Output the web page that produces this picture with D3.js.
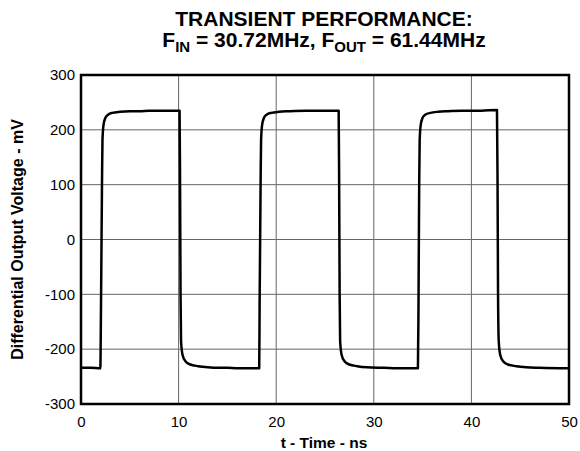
<!DOCTYPE html>
<html>
<head>
<meta charset="utf-8">
<script src="https://cdn.jsdelivr.net/npm/d3@7"></script>
<style>
  body { margin: 0; background: #fff; }
  text { font-family: Arial, "Liberation Sans", sans-serif; }
</style>
</head>
<body>
<div id="chart"></div>
<script>
// waveform: time (ns) and differential voltage (mV)
var timeNs = [
  0, 1.0, 1.98, 2.05, 2.15, 2.2, 2.3, 2.5, 2.8, 3.2, 4.0, 5.0, 6.0, 7.0, 8.0, 9.0, 10.1,
  10.15, 10.2, 10.25, 10.4, 10.7, 11.2, 12.0, 13.0, 14.0, 15.0, 16.0, 17.0, 18.26,
  18.3, 18.4, 18.45, 18.55, 18.75, 19.05, 19.5, 20.3, 21.3, 23.0, 25.0, 26.4,
  26.45, 26.5, 26.55, 26.7, 27.0, 27.5, 28.3, 29.3, 31.0, 33.0, 34.52,
  34.58, 34.65, 34.7, 34.8, 35.0, 35.3, 35.8, 36.6, 37.6, 39.0, 41.0, 42.62,
  42.68, 42.73, 42.8, 42.95, 43.25, 43.75, 44.6, 45.6, 47.0, 50.0
];
var voltageMv = [
  -234, -234, -235, -120, 100, 180, 208, 222, 228, 231, 233, 234, 234, 235, 235, 235, 235,
  100, -100, -185, -210, -222, -228, -231, -233, -234, -234, -235, -235, -235,
  -120, 100, 180, 208, 222, 228, 231, 233, 234, 235, 235, 235,
  100, -100, -185, -210, -222, -228, -231, -233, -234, -235, -235,
  -120, 100, 180, 208, 222, 228, 231, 233, 234, 235, 235, 236,
  100, -100, -185, -210, -222, -228, -231, -233, -234, -235
];
var xTicks = [0, 10, 20, 30, 40, 50];
var yTicks = [-300, -200, -100, 0, 100, 200, 300];

var width = 580, height = 451;
var margin = {top: 75, right: 11, bottom: 47, left: 81};

var svg = d3.select("#chart")
  .append("svg")
  .attr("width", width)
  .attr("height", height);

var x = d3.scaleLinear()
  .domain([0, 50])
  .range([margin.left, width - margin.right]);

var y = d3.scaleLinear()
  .domain([-300, 300])
  .range([height - margin.bottom, margin.top]);

// grid
svg.append("g")
  .selectAll("line.v")
  .data(xTicks)
  .enter()
  .append("line")
    .attr("x1", function(d){ return x(d) })
    .attr("x2", function(d){ return x(d) })
    .attr("y1", y(-300))
    .attr("y2", y(300))
    .attr("stroke", "#666")
    .attr("stroke-width", 1);

svg.append("g")
  .selectAll("line.h")
  .data(yTicks)
  .enter()
  .append("line")
    .attr("x1", x(0))
    .attr("x2", x(50))
    .attr("y1", function(d){ return y(d) })
    .attr("y2", function(d){ return y(d) })
    .attr("stroke", "#666")
    .attr("stroke-width", 1);

// axes (labels only, frame drawn below)
var xAxis = svg.append("g")
  .attr("transform", "translate(0," + y(-300) + ")")
  .call(d3.axisBottom(x).tickValues(xTicks).tickFormat(String).tickSize(0).tickPadding(12));

var yAxis = svg.append("g")
  .attr("transform", "translate(" + x(0) + ",0)")
  .call(d3.axisLeft(y).tickValues(yTicks).tickFormat(String).tickSize(0).tickPadding(6));

[xAxis, yAxis].forEach(function(a){
  a.select(".domain").remove();
  a.selectAll("text")
    .style("font-size", "15px")
    .style("font-family", "Arial, 'Liberation Sans', sans-serif")
    .attr("fill", "#000");
});

// frame
svg.append("rect")
  .attr("x", x(0))
  .attr("y", y(300))
  .attr("width", x(50) - x(0))
  .attr("height", y(-300) - y(300))
  .attr("fill", "none")
  .attr("stroke", "#000")
  .attr("stroke-width", 2.5);

// trace
var pts = timeNs.map(function(t, i){ return [t, voltageMv[i]] });

svg.append("path")
  .datum(pts)
  .attr("fill", "none")
  .attr("stroke", "#000")
  .attr("stroke-width", 2.5)
  .attr("stroke-linejoin", "round")
  .attr("d", d3.line()
    .x(function(d){ return x(d[0]) })
    .y(function(d){ return y(d[1]) })
    .curve(d3.curveMonotoneX));

// titles
var cx = (x(0) + x(50)) / 2 - 1;

svg.append("text")
  .attr("x", cx)
  .attr("y", 26)
  .attr("text-anchor", "middle")
  .style("font-size", "21px")
  .style("font-weight", "bold")
  .text("TRANSIENT PERFORMANCE:");

var t2 = svg.append("text")
  .attr("x", cx)
  .attr("y", 47)
  .attr("text-anchor", "middle")
  .style("font-size", "21px")
  .style("font-weight", "bold");
t2.append("tspan").text("F");
t2.append("tspan").attr("dy", 5).style("font-size", "15px").text("IN");
t2.append("tspan").attr("dy", -5).text(" = 30.72MHz, F");
t2.append("tspan").attr("dy", 5).style("font-size", "15px").text("OUT");
t2.append("tspan").attr("dy", -5).text(" = 61.44MHz");

svg.append("text")
  .attr("x", cx)
  .attr("y", 448)
  .attr("text-anchor", "middle")
  .style("font-size", "15.5px")
  .style("font-weight", "bold")
  .text("t - Time - ns");

svg.append("text")
  .attr("transform", "translate(23," + ((y(300) + y(-300)) / 2) + ") rotate(-90)")
  .attr("text-anchor", "middle")
  .style("font-size", "16px")
  .style("font-weight", "bold")
  .text("Differential Output Voltage - mV");
</script>
</body>
</html>
